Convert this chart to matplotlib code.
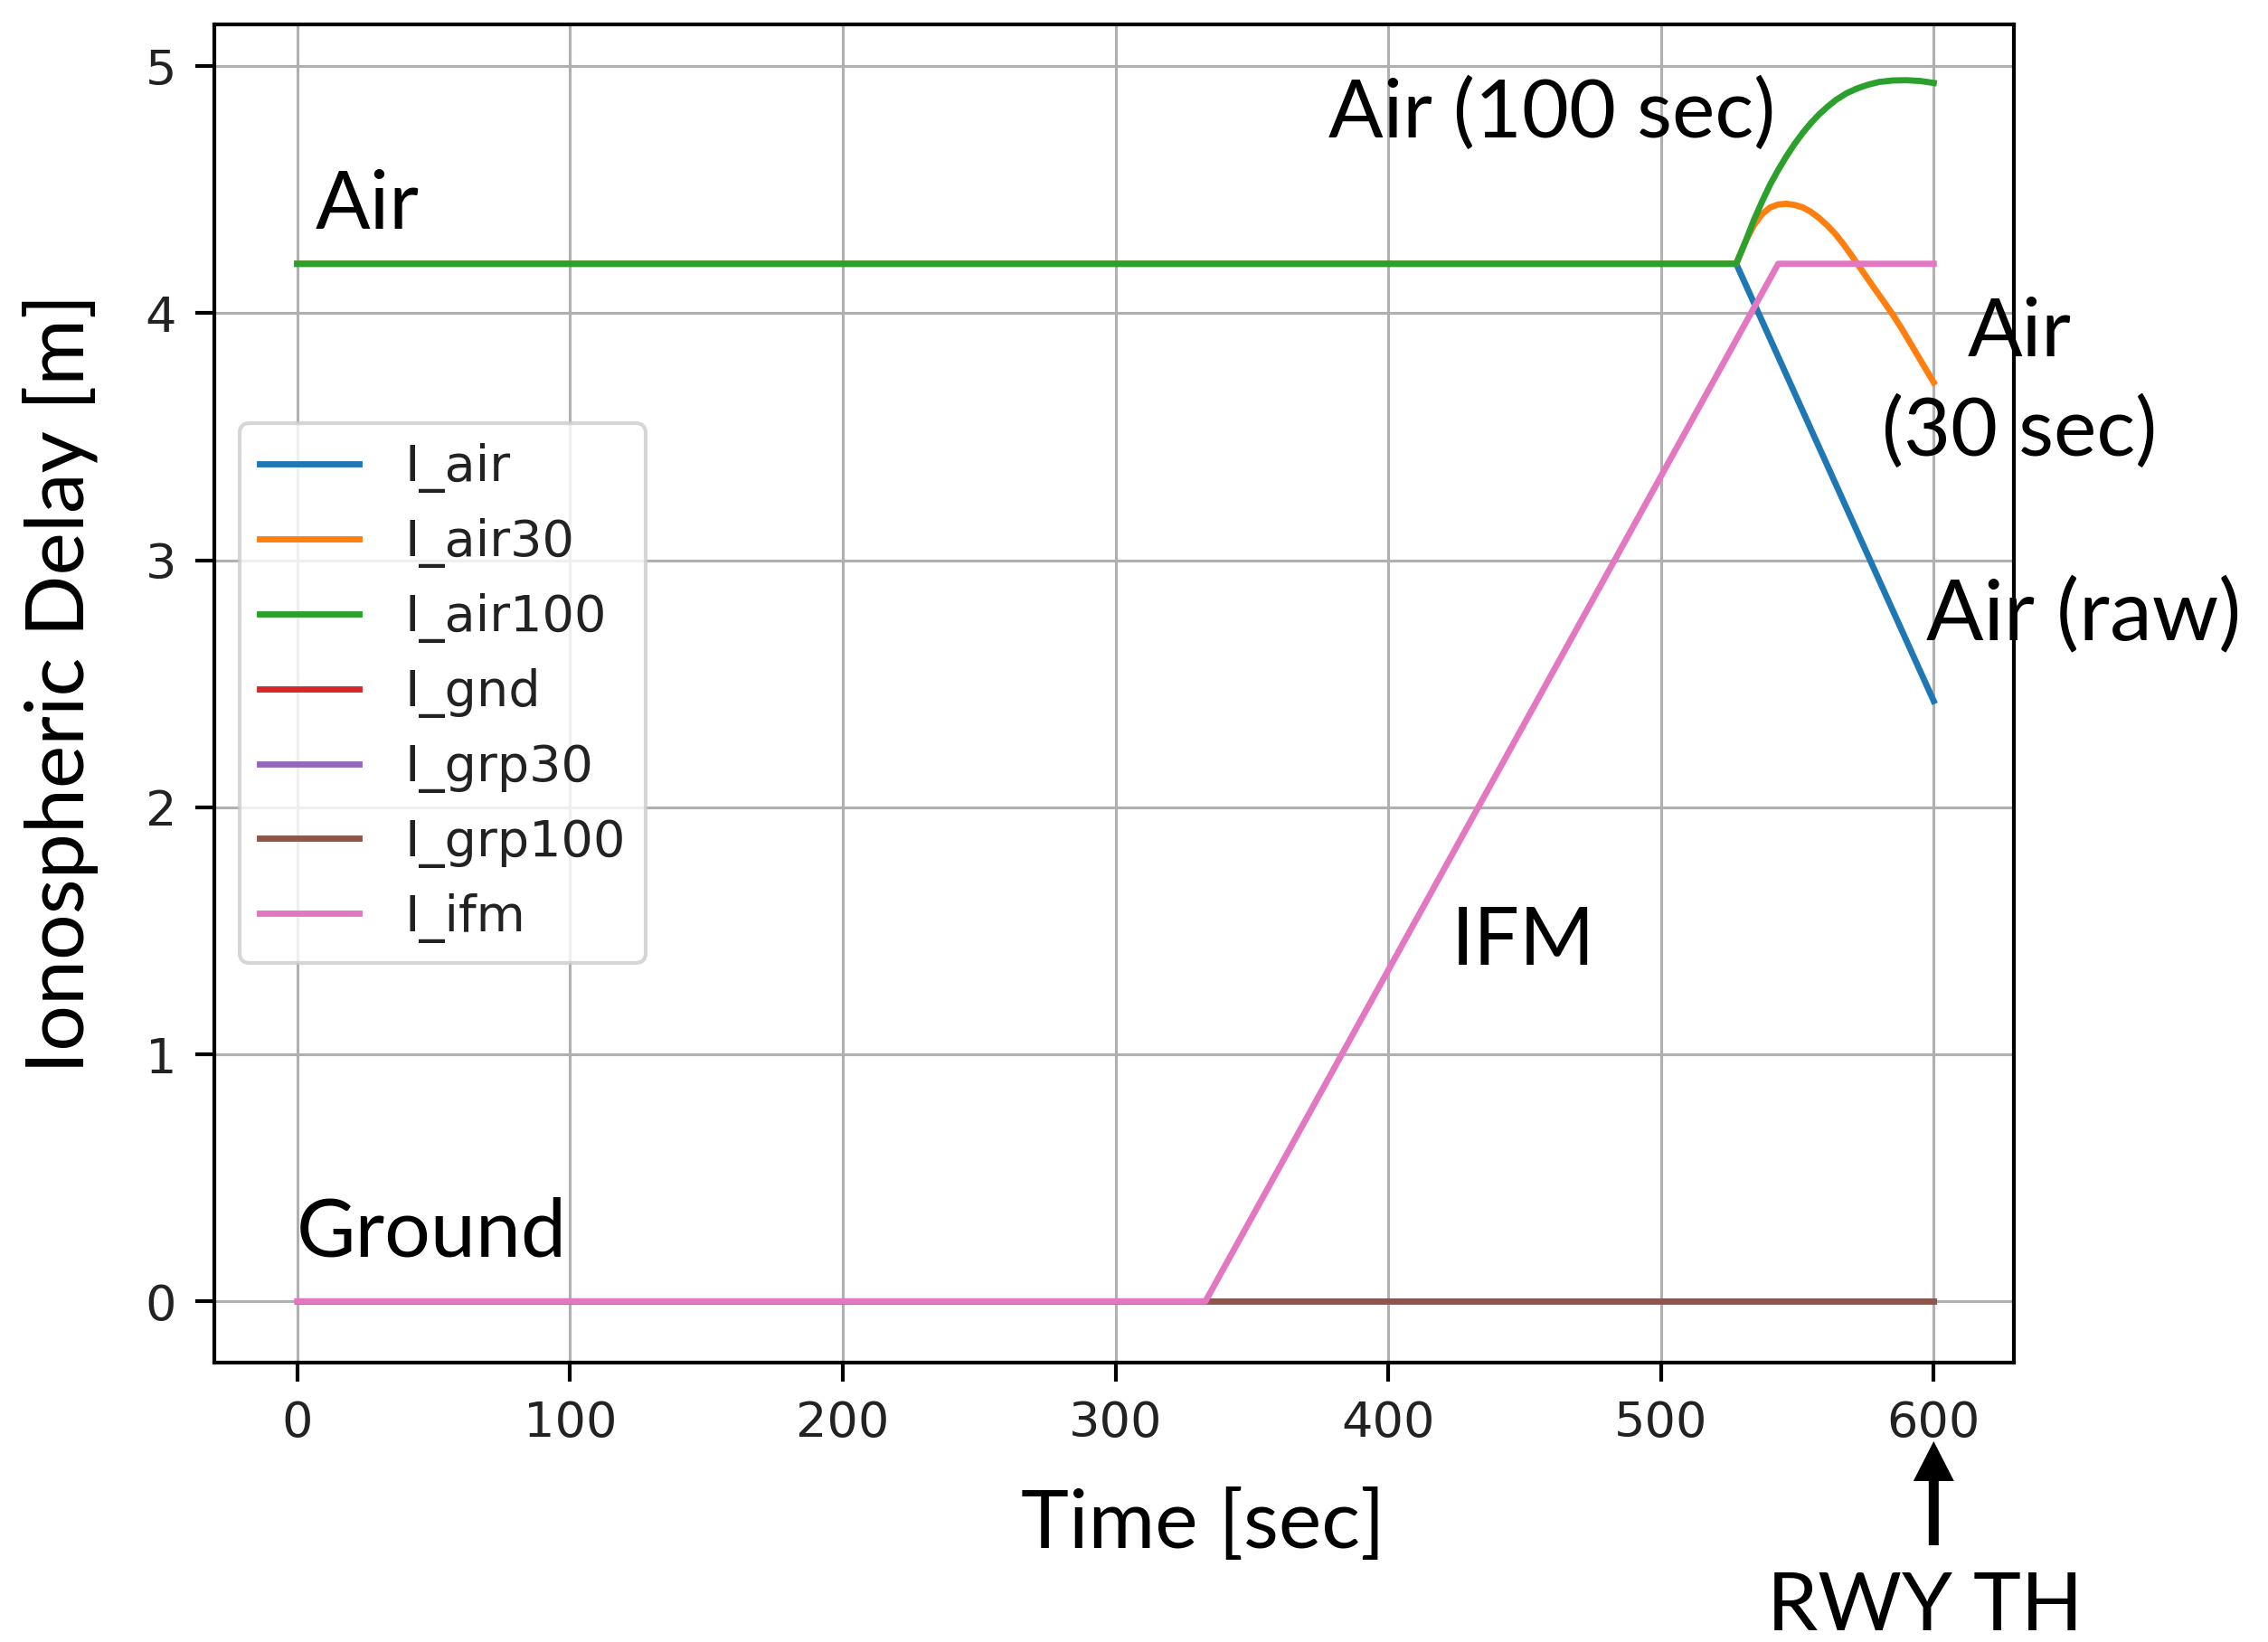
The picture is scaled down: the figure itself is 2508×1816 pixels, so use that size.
import matplotlib
matplotlib.use("Agg")
import matplotlib.pyplot as plt
import matplotlib.transforms as mtransforms
from matplotlib.patches import FancyArrow

# ---------------- data ----------------
t_air = [0, 527.6, 600]
I_air = [4.2, 4.2, 2.43]

t_air30 = [0, 527.6, 531, 534, 537, 540, 543, 546, 549, 552, 555, 558, 561, 564, 567, 570,
           573, 576, 579, 582, 585, 588, 591, 594, 597, 600]
I_air30 = [4.2, 4.2, 4.29, 4.355, 4.40, 4.428, 4.44, 4.443, 4.438, 4.428, 4.41, 4.385, 4.355,
           4.32, 4.278, 4.232, 4.184, 4.136, 4.089, 4.042, 3.994, 3.942, 3.887, 3.831, 3.775, 3.72]

t_air100 = [0, 527.6, 531, 534, 537, 540, 543, 546, 549, 552, 555, 558, 561, 564, 568, 572,
            576, 580, 585, 590, 595, 600]
I_air100 = [4.2, 4.2, 4.29, 4.375, 4.45, 4.52, 4.58, 4.635, 4.685, 4.73, 4.77, 4.805, 4.835,
            4.862, 4.89, 4.91, 4.925, 4.936, 4.942, 4.943, 4.94, 4.932]

t_gnd = [0, 600]
I_gnd = [0, 0]
I_grp30 = [0, 0]
I_grp100 = [0, 0]

t_ifm = [0, 333, 543, 600]
I_ifm = [0, 0, 4.2, 4.2]

series_labels = ["I_air", "I_air30", "I_air100", "I_gnd", "I_grp30", "I_grp100", "I_ifm"]
xticks = [0, 100, 200, 300, 400, 500, 600]
yticks = [0, 1, 2, 3, 4, 5]
rwy_th_time = 600

W, H = 2508, 1816
DPI = 300
fig = plt.figure(figsize=(W / DPI, H / DPI), dpi=DPI)
ax = fig.add_axes([236.7 / W, 1 - 1506.7 / H, (2227.3 - 236.7) / W, (1506.7 - 26.7) / H])

lw = 1.65
ax.plot(t_air, I_air, color="C0", lw=lw, label=series_labels[0])
ax.plot(t_air30, I_air30, color="C1", lw=lw, label=series_labels[1])
ax.plot(t_air100, I_air100, color="C2", lw=lw, label=series_labels[2])
ax.plot(t_gnd, I_gnd, color="C3", lw=lw, label=series_labels[3])
ax.plot(t_gnd, I_grp30, color="C4", lw=lw, label=series_labels[4])
ax.plot(t_gnd, I_grp100, color="C5", lw=lw, label=series_labels[5])
ax.plot(t_ifm, I_ifm, color="C6", lw=lw, label=series_labels[6])

ax.set_xlim(-30.5, 629.5)
ax.set_ylim(-0.247, 5.17)
ax.set_xticks(xticks)
ax.set_yticks(yticks)
ax.grid(True, color="#b0b0b0", lw=0.75)
ax.set_axisbelow(True)
for s in ax.spines.values():
    s.set_linewidth(1.0)
ax.tick_params(labelsize=13, length=5, width=1.0, pad=5, labelcolor="#222222")

leg = ax.legend(loc="center left", fontsize=13.4, handlelength=1.97, handletextpad=0.9,
                borderaxespad=0.5)
for txt in leg.get_texts():
    txt.set_color("#222222")

# ---------------- annotations (Gill-Sans-like) ----------------
fam = ["Lato", "DejaVu Sans"]
fs = 21.5


def ftext(x, y, s, ha="left", size=fs, **kw):
    fig.text(x / W, 1 - y / H, s, ha=ha, va="baseline", fontsize=size, family=fam, **kw)


ftext(349, 253, "Air")
ftext(1963, 152, "Air (100 sec)", ha="right")
ftext(2233, 394, "Air", ha="center")
ftext(2233, 504, "(30 sec)", ha="center")
ftext(2130, 708, "Air (raw)", size=22.5)
ftext(1605, 1067, "IFM")
ftext(328, 1389, "Ground")
ftext(1330, 1712, "Time [sec]", ha="center")
ftext(2129, 1803, "RWY TH", ha="center")
fig.text(93 / W, 1 - 756 / H, "Ionospheric Delay [m]", rotation=90, rotation_mode="anchor",
         ha="center", va="baseline", fontsize=fs, family=fam)

# arrow pointing to runway threshold time
tr = mtransforms.blended_transform_factory(ax.transData, mtransforms.IdentityTransform())
px_per_unit = (2139 - 329) / 600.0
arrow = FancyArrow(rwy_th_time, H - 1709, 0, (1709 - 1594), width=11 / px_per_unit,
                   head_width=45 / px_per_unit, head_length=44, length_includes_head=True,
                   color="black", lw=0, transform=tr, clip_on=False)
fig.add_artist(arrow)

fig.savefig("out.png", dpi=DPI)
